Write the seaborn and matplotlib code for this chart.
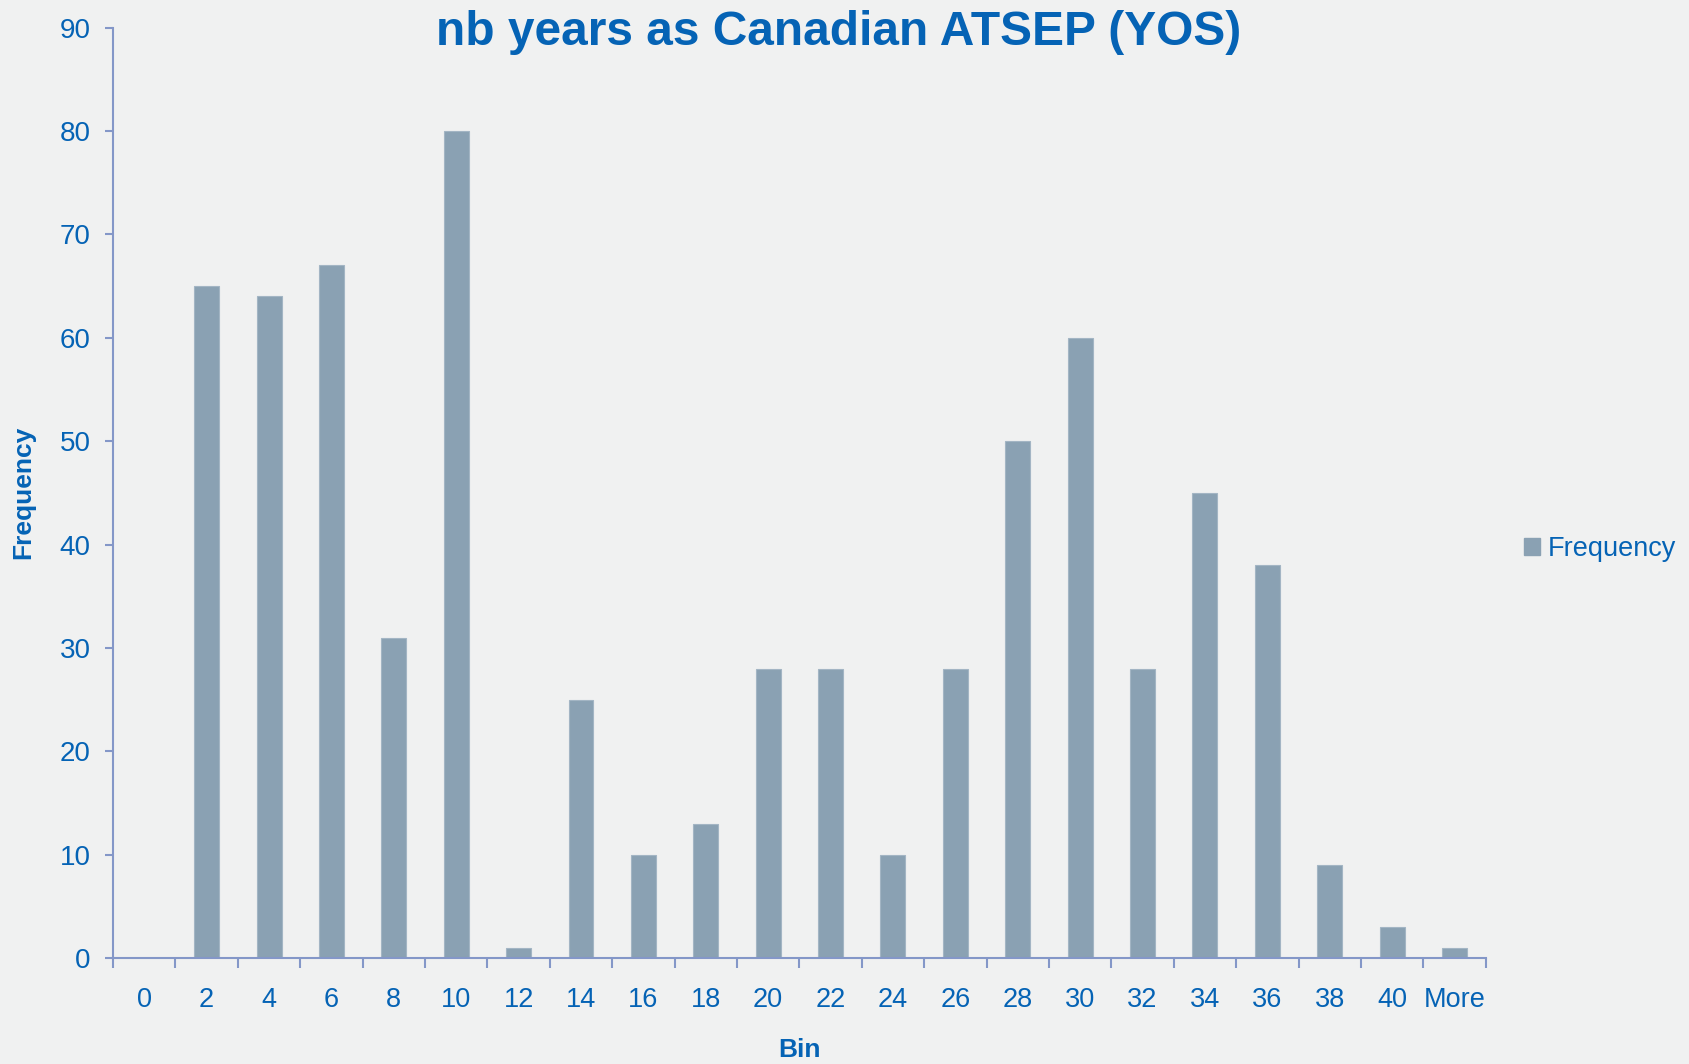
import matplotlib
matplotlib.use("Agg")
import matplotlib.pyplot as plt
from matplotlib.patches import Patch
from matplotlib.ticker import FixedLocator, MultipleLocator
import pandas as pd
import seaborn as sns

bins = ['0', '2', '4', '6', '8', '10', '12', '14', '16', '18', '20', '22',
        '24', '26', '28', '30', '32', '34', '36', '38', '40', 'More']
frequency = [0, 65, 64, 67, 31, 80, 1, 25, 10, 13, 28, 28,
             10, 28, 50, 60, 28, 45, 38, 9, 3, 1]

bg = '#f0f1f1'
bar_color = '#8aa1b3'
text_color = '#0563b5'
axis_color = '#8497c8'

sns.set_style('white')
plt.rcParams['font.family'] = ['Liberation Sans', 'DejaVu Sans']

df = pd.DataFrame({'Bin': bins, 'Frequency': frequency})

fig = plt.figure(figsize=(16.9, 10.64), dpi=100, facecolor=bg)
ax = fig.add_axes([0.0669, 0.0996, 0.8122, 0.8744])
ax.set_facecolor(bg)

sns.barplot(data=df, x='Bin', y='Frequency', color=bar_color, width=0.4,
            saturation=1, edgecolor='#a3b5c4', linewidth=0.8, ax=ax)

ax.set_xlim(-0.5, len(bins) - 0.5)
ax.set_ylim(0, 90)
ax.yaxis.set_major_locator(MultipleLocator(10))

for side in ['top', 'right']:
    ax.spines[side].set_visible(False)
for side in ['left', 'bottom']:
    ax.spines[side].set_color(axis_color)
    ax.spines[side].set_linewidth(1.5)

ax.tick_params(axis='y', which='major', direction='out', length=6, width=1.5,
               color=axis_color, labelcolor=text_color, labelsize=20, pad=10, left=True)
ax.tick_params(axis='x', which='major', length=0, labelcolor=text_color,
               labelsize=19.5, pad=21)
ax.xaxis.set_minor_locator(FixedLocator([i + 0.5 for i in range(-1, len(bins))]))
ax.tick_params(axis='x', which='minor', direction='out', length=7, width=1.5,
               color=axis_color, bottom=True)

ax.set_xlabel('Bin', fontsize=19, fontweight='bold', color=text_color, labelpad=18)
ax.set_ylabel('Frequency', fontsize=19, fontweight='bold', color=text_color, labelpad=18)

fig.suptitle('nb years as Canadian ATSEP (YOS)', fontsize=34.5, fontweight='bold',
             color=text_color, x=0.496, y=0.991, va='top')

handle = Patch(facecolor=bar_color, edgecolor=bar_color)
leg = ax.legend([handle], ['Frequency'], loc='center left', bbox_to_anchor=(1.01, 0.44),
                frameon=False, fontsize=19.5, handlelength=0.6, handleheight=0.6,
                handletextpad=0.3)
for t in leg.get_texts():
    t.set_color(text_color)

fig.savefig('out.png', dpi=100, facecolor=bg)
